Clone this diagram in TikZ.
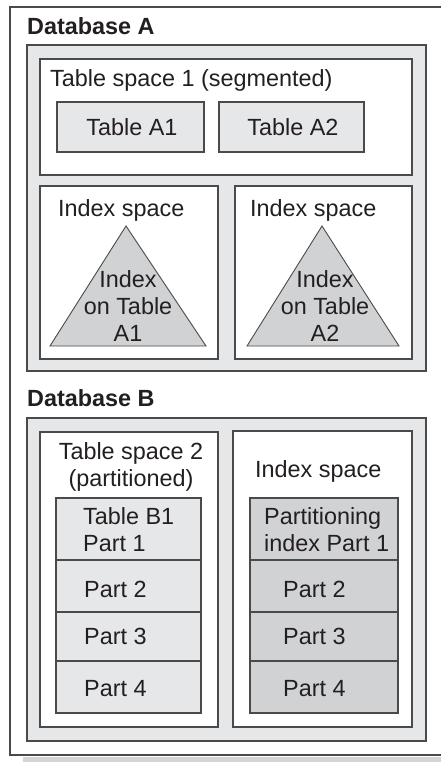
\documentclass[tikz,border=0pt]{standalone}
\usepackage{fontspec}
\setmainfont{Liberation Sans}
\definecolor{lc}{HTML}{4A4A4A}
\definecolor{lite}{HTML}{E6E7E8}
\definecolor{dark}{HTML}{D1D2D4}
\definecolor{txt}{HTML}{231F20}
\definecolor{shad}{HTML}{D4D4D4}
\begin{document}
\begin{tikzpicture}[x=1pt,y=-1pt,
  ln/.style={draw=lc, line width=1.2pt},
  lbl/.style={inner sep=0pt, text=txt, font=\fontsize{23.4}{26.7}\selectfont},
  hdr/.style={lbl, font=\fontsize{23.4}{26.7}\selectfont\bfseries}]
\useasboundingbox (0,0) rectangle (441,762);
% outer frame and shadow
\fill[shad] (23,757) rectangle (441,762);
\draw[ln, fill=white] (441,7) -- (10,7) -- (10,755) -- (441,755);
% ---------- Database A ----------
\node[hdr, anchor=base west] (dbAlbl) at (27,35) {Database A};
\draw[ln, fill=lite] (27,45) rectangle (426,371);
\draw[ln, fill=white] (40,59) rectangle (412,175);
\node[lbl, anchor=base west] (ts1lbl) at (50,87) {Table space 1 (segmented)};
\draw[ln, fill=lite] (57,102) rectangle (204,152);
\node[lbl] (tA1) at (132,127.5) {Table A1};
\draw[ln, fill=lite] (219,102) rectangle (364,152);
\node[lbl] (tA2) at (293,127.5) {Table A2};
\draw[ln, fill=white] (40,186) rectangle (218,359);
\draw[ln, fill=white] (235,186) rectangle (412,359);
\node[lbl, anchor=base west] (is1lbl) at (58,216) {Index space};
\node[lbl, anchor=base west] (is2lbl) at (250,216) {Index space};
\draw[draw=lc, line width=0.9pt, fill=dark, line join=miter] (126,226) -- (50,346) -- (206,346) -- cycle;
\draw[draw=lc, line width=0.9pt, fill=dark, line join=miter] (322,226) -- (247,346) -- (399,346) -- cycle;
\node[lbl, align=center, anchor=base] (ix1) at (128,341) {Index\\on Table\\A1};
\node[lbl, align=center, anchor=base] (ix2) at (325,341) {Index\\on Table\\A2};
% ---------- Database B ----------
\node[hdr, anchor=base west] (dbBlbl) at (27,406) {Database B};
\draw[ln, fill=lite] (27,418) rectangle (426,741);
\draw[ln, fill=white] (40,432) rectangle (218,727);
\draw[ln, fill=white] (233,431) rectangle (412,727);
\node[lbl, align=center, anchor=base] (ts2lbl) at (131,486) {Table space 2\\(partitioned)};
\node[lbl, anchor=base west] (isBlbl) at (255,477) {Index space};
% table partitions
\draw[ln, fill=lite] (56,498) rectangle (201,560);
\draw[ln, fill=lite] (56,560) rectangle (201,612);
\draw[ln, fill=lite] (56,612) rectangle (201,661);
\draw[ln, fill=lite] (56,661) rectangle (201,713);
\node[lbl, align=left, anchor=base west] (tb1) at (83,551) {Table B1\\Part 1};
\node[lbl, anchor=base west] (tb2) at (84,597) {Part 2};
\node[lbl, anchor=base west] (tb3) at (84,644) {Part 3};
\node[lbl, anchor=base west] (tb4) at (84,696) {Part 4};
% index partitions
\draw[ln, fill=dark] (250,498) rectangle (398,560);
\draw[ln, fill=dark] (250,560) rectangle (398,612);
\draw[ln, fill=dark] (250,612) rectangle (398,661);
\draw[ln, fill=dark] (250,661) rectangle (398,713);
\node[lbl, align=left, anchor=base west] (ib1) at (264,551) {Partitioning\\index Part 1};
\node[lbl, anchor=base west] (ib2) at (283,597) {Part 2};
\node[lbl, anchor=base west] (ib3) at (283,644) {Part 3};
\node[lbl, anchor=base west] (ib4) at (283,696) {Part 4};
\end{tikzpicture}
\end{document}
